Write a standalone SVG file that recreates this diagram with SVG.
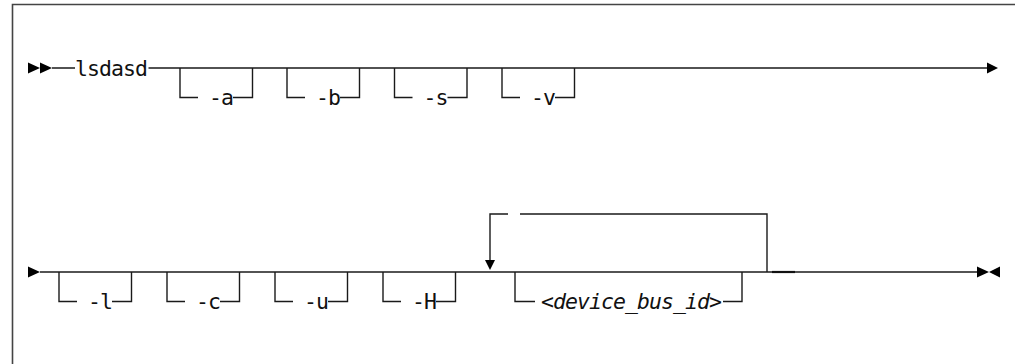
<svg xmlns="http://www.w3.org/2000/svg" width="1015" height="364" viewBox="0 0 1015 364">
<style>
.ln{stroke:#1a1a1a;stroke-width:1.4;fill:none}
.ah{fill:#000;stroke:none}
.t{font-family:"DejaVu Sans Mono","Liberation Mono",monospace;font-size:21.5px;letter-spacing:-0.95px;fill:#111}
.it{font-style:italic}
</style>
<rect x="0" y="0" width="1015" height="364" fill="#fff"/>
<path d="M12.5,364V4.5H1015" fill="none" stroke="#444" stroke-width="1.6"/>
<g id="connectors">
<polygon class="ah" points="28,62.5 40,68 28,73.5"/>
<polygon class="ah" points="40,62.5 52,68 40,73.5"/>
<path class="ln" d="M52,68H75M148.5,68H987"/>
<polygon class="ah" points="987,62.5 998,68 987,73.5"/>
<polygon class="ah" points="28,266.5 40,272 28,277.5"/>
<path class="ln" d="M40,272H977"/>
<polygon class="ah" points="977,266.5 989,272 977,277.5"/>
<polygon class="ah" points="1000,266.5 989,272 1000,277.5"/>
<path class="ln" d="M508,214H490V261"/>
<polygon class="ah" points="485,260 495,260 490,270"/>
<path class="ln" d="M520,214H767V272"/>
<path stroke="#111" stroke-width="2.2" d="M772,272H795"/>
</g>
<g id="lsdasd"><text class="t" x="75" y="75.5">lsdasd</text></g>
<g id="opt-a"><path class="ln" d="M180,68V97.5H198M233,97.5H252.5V68"/><text class="t" x="209" y="105">-a</text></g>
<g id="opt-b"><path class="ln" d="M287,68V97.5H305M340,97.5H359.5V68"/><text class="t" x="316" y="105">-b</text></g>
<g id="opt-s"><path class="ln" d="M394.5,68V97.5H412.5M447.5,97.5H467V68"/><text class="t" x="423.5" y="105">-s</text></g>
<g id="opt-v"><path class="ln" d="M502,68V97.5H520M555,97.5H574.5V68"/><text class="t" x="531" y="105">-v</text></g>
<g id="opt-l"><path class="ln" d="M59,272V301.5H77M112,301.5H131.5V272"/><text class="t" x="88" y="309">-l</text></g>
<g id="opt-c"><path class="ln" d="M167,272V301.5H185M220,301.5H239.5V272"/><text class="t" x="196" y="309">-c</text></g>
<g id="opt-u"><path class="ln" d="M275,272V301.5H293M328,301.5H347.5V272"/><text class="t" x="304" y="309">-u</text></g>
<g id="opt-H"><path class="ln" d="M383,272V301.5H401M436,301.5H455.5V272"/><text class="t" x="412" y="309">-H</text></g>
<g id="device_bus_id"><path class="ln" d="M515,272V301.5H535M723,301.5H742V272"/><text class="t it" x="541" y="309">&lt;device_bus_id&gt;</text></g>
</svg>
